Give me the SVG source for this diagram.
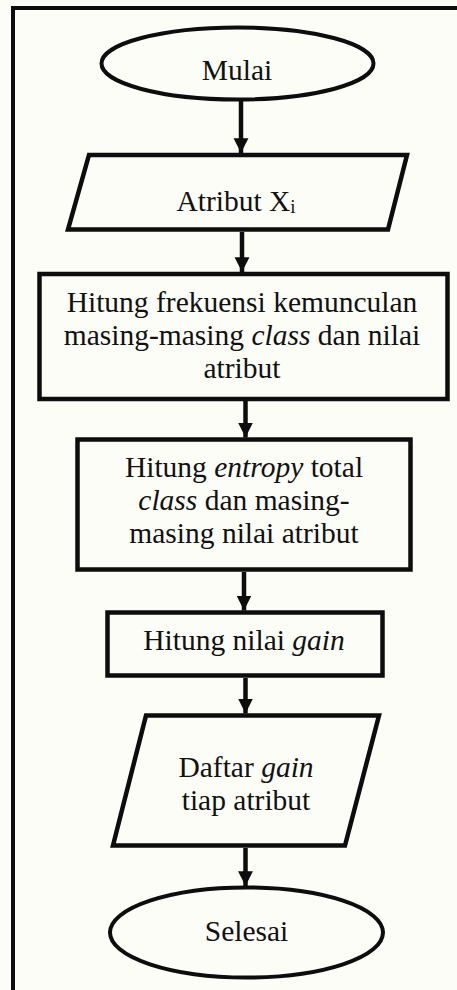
<svg xmlns="http://www.w3.org/2000/svg" width="457" height="990" viewBox="0 0 457 990">
  <defs>
    <marker id="arrow" viewBox="0 0 10 10" refX="10" refY="5" markerWidth="3.3" markerHeight="3.7" markerUnits="strokeWidth" orient="auto">
      <path d="M0,0 L10,5 L0,10 Z" fill="#0d0d0d"/>
    </marker>
    <style>
      .shape { fill: none; stroke: #0d0d0d; stroke-width: 4.5; stroke-linejoin: miter; }
      .oval { fill: none; stroke: #0d0d0d; stroke-width: 4; }
      .edge { stroke: #0d0d0d; stroke-width: 4.5; fill: none; }
      .lbl { font-family: "Liberation Serif", "Times New Roman", serif; font-size: 29.5px; fill: #111; text-anchor: middle; }
      .it { font-style: italic; }
    </style>
  </defs>

  <!-- page background and frame -->
  <rect x="0" y="0" width="457" height="990" fill="#fdfdf8"/>
  <path d="M13,990 L13,8 L457,8" fill="none" stroke="#0d0d0d" stroke-width="4"/>

  <!-- connectors -->
  <g id="connectors">
    <line class="edge" x1="241" y1="100" x2="241" y2="153" marker-end="url(#arrow)"/>
    <line class="edge" x1="242" y1="232" x2="242" y2="272" marker-end="url(#arrow)"/>
    <line class="edge" x1="245.5" y1="401" x2="245.5" y2="437.5" marker-end="url(#arrow)"/>
    <line class="edge" x1="244" y1="572" x2="244" y2="610.5" marker-end="url(#arrow)"/>
    <line class="edge" x1="245.5" y1="678" x2="245.5" y2="713.5" marker-end="url(#arrow)"/>
    <line class="edge" x1="245.5" y1="848" x2="245.5" y2="886" marker-end="url(#arrow)"/>
  </g>

  <!-- start terminator -->
  <g id="mulai">
    <ellipse class="oval" cx="237.5" cy="63.5" rx="136" ry="36"/>
    <text class="lbl" x="237" y="80">Mulai</text>
  </g>

  <!-- input: attribute -->
  <g id="atribut">
    <polygon class="shape" points="89,155 407,155 388,229.5 68,229.5"/>
    <text class="lbl" x="236" y="211">Atribut X<tspan font-size="19" dy="2">i</tspan></text>
  </g>

  <!-- process: count frequencies -->
  <g id="frekuensi">
    <rect class="shape" x="39.5" y="274" width="408" height="125"/>
    <text class="lbl" x="242" y="311.5">Hitung frekuensi kemunculan</text>
    <text class="lbl" x="242" y="344.5">masing-masing <tspan class="it">class</tspan> dan nilai</text>
    <text class="lbl" x="242" y="377.5">atribut</text>
  </g>

  <!-- process: entropy -->
  <g id="entropy">
    <rect class="shape" x="77.5" y="439.5" width="333" height="130"/>
    <text class="lbl" x="244" y="476.5">Hitung <tspan class="it">entropy</tspan> total</text>
    <text class="lbl" x="244" y="510"><tspan class="it">class</tspan> dan masing-</text>
    <text class="lbl" x="244" y="543">masing nilai atribut</text>
  </g>

  <!-- process: gain -->
  <g id="gain">
    <rect class="shape" x="107.5" y="612.5" width="275" height="63"/>
    <text class="lbl" x="244" y="650">Hitung nilai <tspan class="it">gain</tspan></text>
  </g>

  <!-- output: gain list -->
  <g id="daftar">
    <polygon class="shape" points="146,715.5 379,715.5 345,845.5 113,845.5"/>
    <text class="lbl" x="246" y="777">Daftar <tspan class="it">gain</tspan></text>
    <text class="lbl" x="246" y="810">tiap atribut</text>
  </g>

  <!-- end terminator -->
  <g id="selesai">
    <ellipse class="oval" cx="246.5" cy="932.5" rx="136.5" ry="45"/>
    <text class="lbl" x="246.5" y="941">Selesai</text>
  </g>
</svg>
